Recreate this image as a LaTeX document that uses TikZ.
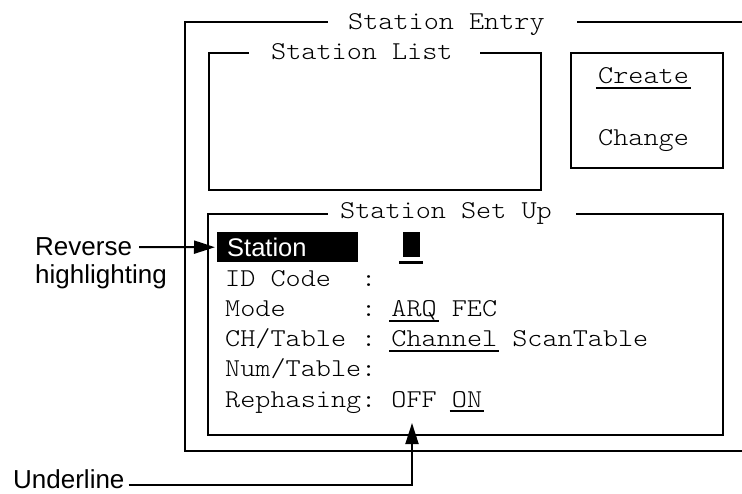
\documentclass[tikz,border=0pt]{standalone}
\usepackage{fontspec}
\newfontfamily\labsans{Liberation Sans}
\newfontfamily\monolight{lmmonolt10-regular.otf}
\usetikzlibrary{arrows.meta,calc}
\newcommand\ulx[1]{\setbox0\hbox{#1}\rlap{\kern-2pt\rule[-5pt]{\dimexpr\wd0+4pt\relax}{1.8pt}}\box0}
\tikzset{
  frame/.style={line width=2.3pt, line cap=rect},
  mono/.style={font=\monolight\fontsize{25.7}{26}\selectfont, xscale=1.12, transform shape, anchor=base west, inner sep=0pt},
  lab/.style={font=\labsans\fontsize{26}{28}\selectfont, inner sep=0pt},
  arr/.style={line width=2pt, -{Triangle[length=21pt,width=13pt]}}
}
\begin{document}
\begin{tikzpicture}[x=1pt,y=-1pt]
\useasboundingbox (0,0) rectangle (742,494);
% outer frame: Station Entry
\draw[frame] (327,22) -- (185,22) -- (185,451) -- (745,451);
\draw[frame] (578,22) -- (745,22);
\node[mono] (entry) at (348,30) {Station Entry};
% Station List
\draw[frame] (248,53) -- (209,53) -- (209,190) -- (541,190) -- (541,53) -- (481,53);
\node[mono] (list) at (271,60) {Station List};
% Create / Change
\draw[frame] (571,53) rectangle (723,168);
\node[mono] (create) at (598,84) {\ulx{Create}};
\node[mono] (change) at (598,146) {Change};
% Station Set Up
\draw[frame] (327,214) -- (208,214) -- (208,435) -- (723,435) -- (723,214) -- (577,214);
\node[mono] (setup) at (340,219) {Station Set Up};
% highlighted row
\node (hl) [fill=black, anchor=north west, minimum width=141pt, minimum height=30pt,
  inner xsep=10pt, inner ysep=0pt, text width=121pt, align=left, text=white,
  font=\labsans\fontsize{25.5}{26}\selectfont] at (217,232) {Station};
\node (cur) [fill=black, minimum width=17pt, minimum height=25pt, anchor=north west, inner sep=0pt] at (403,232) {};
\draw[line width=2.5pt] ($(cur.south west)+(-4,5)$) -- ($(cur.south east)+(3,5)$);
% rows
\node[mono] (idc) at (225,287) {ID~Code~~:};
\node[mono] (mode) at (225,317) {Mode~~~~~:~\ulx{ARQ}~FEC};
\node[mono] (ch) at (225,347) {CH/Table~:~\ulx{Channel}~ScanTable};
\node[mono] (num) at (225,377) {Num/Table:};
\node[mono] (reph) at (225,407) {Rephasing:~OFF~\ulx{ON}};
% callouts
\node[lab, anchor=west] (rev) at (35,247) {Reverse};
\node[lab, anchor=base west] (hil) at (35,284) {highlighting};
\draw[arr, shorten <=7pt, shorten >=2pt] (rev.east) -- (hl.west);
\node[lab, anchor=base west] (ul) at (13,488) {Underline};
\coordinate (ontip) at (412,423);
\draw[arr, shorten <=4pt] ($(ul.east)+(0,6)$) -| (ontip);
\end{tikzpicture}
\end{document}
